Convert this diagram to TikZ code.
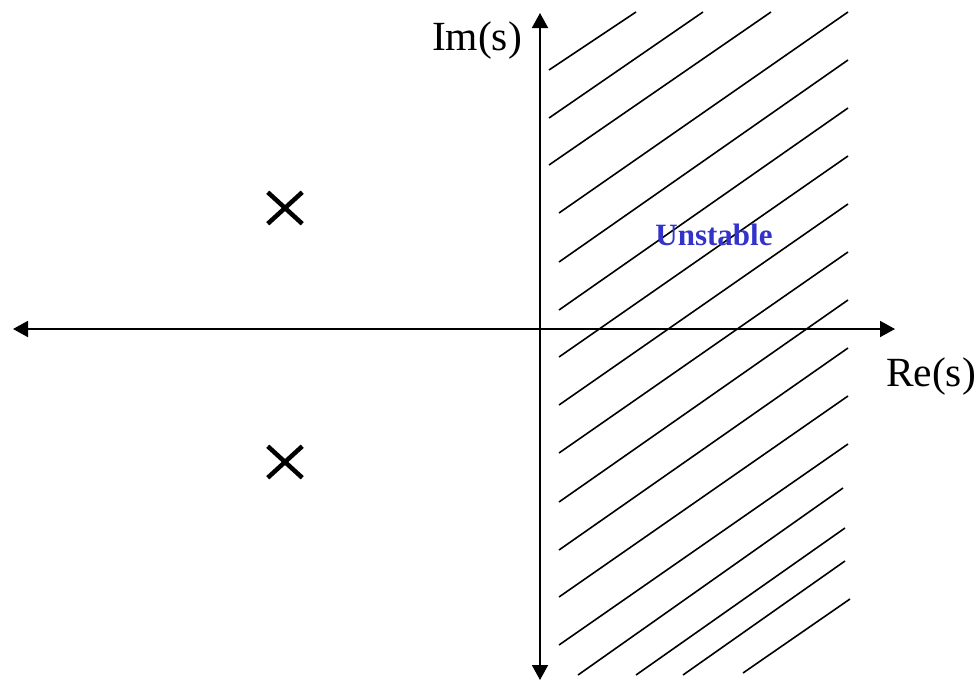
\documentclass[tikz,border=0pt]{standalone}
\usepackage{fontspec}
\setmainfont{Liberation Serif}
\usetikzlibrary{arrows.meta,shapes.misc}
\definecolor{unstableblue}{RGB}{51,51,204}

\begin{document}
\begin{tikzpicture}[
    x=1pt, y=-1pt,
    >={Triangle[length=15pt,width=16pt]},
    axis/.style={<->, line width=1.9pt},
    hatch/.style={line width=1.6pt},
    pole/.style={draw, cross out, line width=4.5pt, minimum width=30pt, minimum height=27pt, inner sep=0pt},
    axlabel/.style={anchor=base, inner sep=0pt, font=\fontsize{41.5}{48}\selectfont},
    region/.style={anchor=base, inner sep=0pt, text=unstableblue, font=\fontsize{31}{36}\selectfont\bfseries}
]
\useasboundingbox (0,0) rectangle (978,680);

% hatched right half-plane
\foreach \xa/\ya/\xb/\yb in {549/70/636/12, 549/118/703/12, 549/165/771/12,
    559/213/848/12, 559/262/848/60, 559/310/848/108, 559/357/848/156,
    559/405/848/204, 559/453/848/252, 559/502/848/300, 559/550/848/348,
    559/597/848/396, 559/645/848/444, 578/675/843/488, 636/675/845/528,
    683/675/845/561, 743/673/850/599}
    \draw[hatch] (\xa,\ya) -- (\xb,\yb);

% axes
\coordinate (west) at (13,329);
\coordinate (east) at (895,329);
\coordinate (north) at (540,13);
\coordinate (south) at (540,680);
\draw[axis] (west) -- (east);
\draw[axis] (north) -- (south);

\node[axlabel] (im) at (477,50) {Im(s)};
\node[axlabel] (re) at (931,386) {Re(s)};
\node[region] (unstable) at (714,245) {Unstable};

% poles
\node[pole] (pole1) at (285,208) {};
\node[pole] (pole2) at (285,462) {};
\end{tikzpicture}
\end{document}
